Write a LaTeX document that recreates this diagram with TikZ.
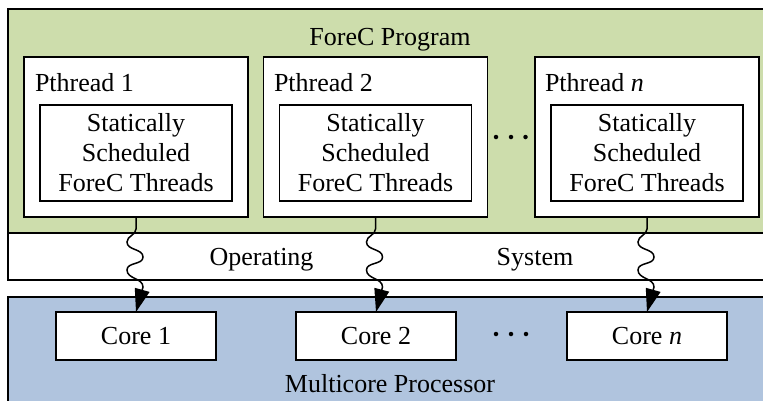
\documentclass[tikz,border=0pt]{standalone}
\usepackage{fontspec}
\setmainfont{Liberation Serif}
\usetikzlibrary{arrows.meta}
\definecolor{progGreen}{RGB}{205,221,172}
\definecolor{procBlue}{RGB}{176,196,222}
\newcommand\wavyarrow[2]{%
  \draw[conn] (#1.south) -- ++(0,12)
    to[out=-90,in=90] ++(-9,13)
    to[out=-90,in=90] ++(16,15)
    to[out=-90,in=90] ++(-16,13)
    to[out=-90,in=90] ++(16,17)
    -- (#2.north);}
\begin{document}
\begin{tikzpicture}[x=1pt,y=-1pt,
  font=\fontsize{26}{30}\selectfont,
  box/.style={draw, line width=1.5pt, fill=white, inner sep=0pt, outer sep=0pt, rectangle},
  layer/.style={draw, line width=1.5pt, inner sep=0pt, outer sep=0pt, rectangle, minimum width=762pt},
  pthr/.style={box, minimum width=224pt, minimum height=160pt},
  inner/.style={box, minimum width=192pt, minimum height=96pt, align=center},
  core/.style={box, minimum width=160pt, minimum height=48pt},
  label/.style={inner sep=0pt, outer sep=0pt},
  conn/.style={line width=1.5pt, -{Triangle[length=23pt,width=15pt]}},
  dot/.style={circle, fill=black, inner sep=0pt, minimum size=4.5pt}]
\useasboundingbox (0,0) rectangle (763,400);
\clip (0,0) rectangle (763,400);
% layers
\node[layer, fill=progGreen, minimum height=224pt] (prog) at (389,121) {};
\node[layer, fill=white, minimum height=47pt] (os) at (389,256.5) {};
\node[layer, fill=procBlue, minimum height=108pt] (proc) at (389,351) {};
\node[label, anchor=base] (progt) at (390,45) {ForeC Program};
\node[label, anchor=base] (opt) at (261.5,265) {Operating};
\node[label, anchor=base] (syst) at (535,265) {System};
\node[label, anchor=base] (proct) at (390,392) {Multicore Processor};
% pthreads
\node[pthr] (p1) at (136,137) {};
\node[pthr] (p2) at (375.5,137) {};
\node[pthr] (pn) at (647,137) {};
\node[label, anchor=base west] (p1t) at (35,91) {Pthread 1};
\node[label, anchor=base west] (p2t) at (274,91) {Pthread 2};
\node[label, anchor=base west] (pnt) at (545,91) {Pthread \textit{n}};
\node[inner] (i1) at (136,153) {Statically\\Scheduled\\ForeC Threads};
\node[inner] (i2) at (375.5,153) {Statically\\Scheduled\\ForeC Threads};
\node[inner] (in) at (647,153) {Statically\\Scheduled\\ForeC Threads};
% cores
\node[core] (c1) at (136,336) {Core 1};
\node[core] (c2) at (376,336) {Core 2};
\node[core] (cn) at (647,336) {Core \textit{n}};
% dots
\node[dot] (d1) at (496,137) {};
\node[dot] (d2) at (511,137) {};
\node[dot] (d3) at (525.5,137) {};
\node[dot] (e1) at (496,334) {};
\node[dot] (e2) at (511,334) {};
\node[dot] (e3) at (526,334) {};
% connectors
\wavyarrow{p1}{c1}
\wavyarrow{p2}{c2}
\wavyarrow{pn}{cn}
\end{tikzpicture}
\end{document}
